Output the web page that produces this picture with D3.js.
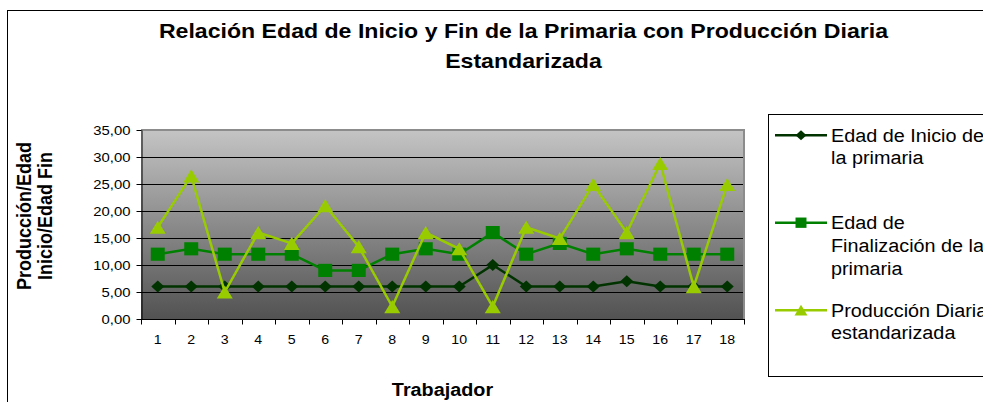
<!DOCTYPE html>
<html>
<head>
<meta charset="utf-8">
<script src="https://cdn.jsdelivr.net/npm/d3@7"></script>
<style>
    body { margin: 0; background: #fff; }
    svg { display: block; font-family: Arial, "Liberation Sans", sans-serif; }
</style>
</head>
<body>
<div id="chart"></div>
<script>
let width = 983;
let height = 402;
let plot = ({ left: 141, right: 744, top: 130, bottom: 319 });
let wide = 1.1; // the original text is drawn a little wider than plain Arial

// data
let trabajadores = ["1", "2", "3", "4", "5", "6", "7", "8", "9", "10", "11", "12", "13", "14", "15", "16", "17", "18"];
let edadInicio = [6, 6, 6, 6, 6, 6, 6, 6, 6, 6, 10, 6, 6, 6, 7, 6, 6, 6];
let edadFin = [12, 13, 12, 12, 12, 9, 9, 12, 13, 12, 16, 12, 14, 12, 13, 12, 12, 12];
let produccion = [17, 26.5, 5, 16, 14, 21, 13.4, 2.3, 16, 13, 2.3, 17, 14.9, 24.9, 16, 28.8, 6, 24.9];
let yTicks = [0, 5, 10, 15, 20, 25, 30, 35];

let titleLines = ["Relación Edad de Inicio y Fin de la Primaria con Producción Diaria", "Estandarizada"];
let yTitleLines = ["Producción/Edad", "Inicio/Edad Fin"];
let xTitle = "Trabajador";
let legendLines = [
    ["Edad de Inicio de", "la primaria"],
    ["Edad de", "Finalización de la", "primaria"],
    ["Producción Diaria", "estandarizada"]
];

// custom marker shapes (size = width in px)
const diamond = {
    draw(ctx, s) {
        let r = s / 2, h = s * 0.46;
        ctx.moveTo(0, -h); ctx.lineTo(r, 0); ctx.lineTo(0, h); ctx.lineTo(-r, 0); ctx.closePath();
    }
};
const square = {
    draw(ctx, s) { ctx.rect(-s / 2, -s * 0.47, s, s * 0.94); }
};
const triangle = {
    draw(ctx, s) {
        let h = s * 0.82;
        ctx.moveTo(0, -h / 2); ctx.lineTo(s / 2, h / 2); ctx.lineTo(-s / 2, h / 2); ctx.closePath();
    }
};

let series = [
    { values: edadInicio, color: "#003300", shape: diamond, size: 13, legendSize: 11 },
    { values: edadFin, color: "#008000", shape: square, size: 14, legendSize: 11 },
    { values: produccion, color: "#99cc00", shape: triangle, size: 16, legendSize: 13 }
];

const locale = d3.formatLocale({ decimal: ",", thousands: ".", grouping: [3], currency: ["", ""] });
const fmt = locale.format(".2f");

function stretch(sel, k) {
    sel.each(function () {
        let w = this.getComputedTextLength();
        d3.select(this).attr("textLength", w * k).attr("lengthAdjust", "spacingAndGlyphs");
    });
}

function drawChart() {
    const svg = d3.select("#chart").append("svg")
        .attr("width", width)
        .attr("height", height);

    let x = d3.scaleBand().domain(trabajadores).range([plot.left, plot.right]);
    let y = d3.scaleLinear().domain([0, 35]).range([plot.bottom, plot.top]);

    // outer chart frame (runs off the right and bottom)
    svg.append("rect")
        .attr("x", 7.5).attr("y", 10.5)
        .attr("width", 1200).attr("height", 600)
        .attr("fill", "none").attr("stroke", "#000");

    // title
    svg.append("g").selectAll("text")
        .data(titleLines)
        .join("text")
        .attr("x", 523.5)
        .attr("y", (d, i) => 37.5 + i * 30.5)
        .attr("text-anchor", "middle")
        .attr("font-size", 21)
        .attr("font-weight", "bold")
        .text(d => d)
        .call(stretch, wide);

    // plot background gradient
    let grad = svg.append("defs").append("linearGradient")
        .attr("id", "bg").attr("x1", 0).attr("y1", 0).attr("x2", 0).attr("y2", 1);
    grad.append("stop").attr("offset", "0%").attr("stop-color", "#c4c4c4");
    grad.append("stop").attr("offset", "100%").attr("stop-color", "#525252");

    svg.append("rect")
        .attr("x", plot.left).attr("y", plot.top)
        .attr("width", plot.right - plot.left).attr("height", plot.bottom - plot.top)
        .attr("fill", "url(#bg)");

    // gridlines
    svg.append("g").selectAll("line")
        .data(yTicks.filter(d => d > 0 && d < 35))
        .join("line")
        .attr("x1", plot.left).attr("x2", plot.right)
        .attr("y1", d => Math.round(y(d)) + 0.5).attr("y2", d => Math.round(y(d)) + 0.5)
        .attr("stroke", "#000");

    // plot border (gray, top and right)
    svg.append("path")
        .attr("d", `M${plot.left},${plot.top}H${plot.right}V${plot.bottom}`)
        .attr("fill", "none").attr("stroke", "#8c8c8c").attr("stroke-width", 2);

    // y axis
    svg.append("g")
        .attr("transform", `translate(${plot.left + 0.5},0)`)
        .call(d3.axisLeft(y).tickValues(yTicks).tickFormat(fmt).tickSize(5).tickSizeOuter(0))
        .call(g => g.select(".domain").attr("stroke", "#000"))
        .call(g => g.selectAll("text")
            .attr("font-size", 13.5).attr("fill", "#000").attr("dx", -3)
            .attr("font-family", "Arial, 'Liberation Sans', sans-serif")
            .call(stretch, wide));

    // x axis: labels in the middle of each band, ticks on the band edges
    let xAxis = svg.append("g")
        .attr("transform", `translate(0,${plot.bottom + 0.5})`);
    xAxis.append("line")
        .attr("x1", plot.left).attr("x2", plot.right + 1)
        .attr("stroke", "#000");
    xAxis.selectAll(".edge")
        .data(trabajadores.concat(["end"]))
        .join("line")
        .attr("class", "edge")
        .attr("x1", (d, i) => Math.round(plot.left + i * x.step()) + 0.5)
        .attr("x2", (d, i) => Math.round(plot.left + i * x.step()) + 0.5)
        .attr("y1", 0).attr("y2", 5)
        .attr("stroke", "#000");
    xAxis.selectAll("text")
        .data(trabajadores)
        .join("text")
        .attr("x", d => x(d) + x.bandwidth() / 2)
        .attr("y", 24.5)
        .attr("text-anchor", "middle")
        .attr("font-size", 13.5)
        .text(d => d)
        .call(stretch, 1.05);

    // axis titles
    svg.append("text")
        .attr("x", 442.5).attr("y", 396)
        .attr("text-anchor", "middle")
        .attr("font-size", 18).attr("font-weight", "bold")
        .text(xTitle)
        .call(stretch, wide);

    svg.append("g").selectAll("text")
        .data(yTitleLines)
        .join("text")
        .attr("transform", (d, i) => `translate(${31 + i * 21},216) scale(${wide},1) rotate(-90)`)
        .attr("text-anchor", "middle")
        .attr("font-size", 18).attr("font-weight", "bold")
        .text(d => d);

    // series lines and markers
    let line = d3.line()
        .x((d, i) => x(trabajadores[i]) + x.bandwidth() / 2)
        .y(d => y(d));

    series.forEach(s => {
        svg.append("path")
            .datum(s.values)
            .attr("d", line)
            .attr("fill", "none")
            .attr("stroke", s.color)
            .attr("stroke-width", 2.5);
        svg.append("g").selectAll("path")
            .data(s.values)
            .join("path")
            .attr("transform", (d, i) => `translate(${x(trabajadores[i]) + x.bandwidth() / 2},${y(d)})`)
            .attr("d", d3.symbol(s.shape, s.size))
            .attr("fill", s.color);
    });

    // legend
    let legend = svg.append("g");
    legend.append("rect")
        .attr("x", 768.5).attr("y", 114.5)
        .attr("width", 400).attr("height", 262)
        .attr("fill", "#fff").attr("stroke", "#000");

    series.forEach((s, k) => {
        let base = 141.7 + k * 87.5;
        let g = legend.append("g");
        g.append("line")
            .attr("x1", 775).attr("x2", 827)
            .attr("y1", base - 6.5).attr("y2", base - 6.5)
            .attr("stroke", s.color).attr("stroke-width", 2.5);
        g.append("path")
            .attr("transform", `translate(801,${base - 6.5})`)
            .attr("d", d3.symbol(s.shape, s.legendSize))
            .attr("fill", s.color);
        g.selectAll("text")
            .data(legendLines[k])
            .join("text")
            .attr("x", 831)
            .attr("y", (d, i) => base + i * 22.7)
            .attr("font-size", 18)
            .text(d => d)
            .call(stretch, wide);
    });
}

drawChart();
</script>
</body>
</html>
